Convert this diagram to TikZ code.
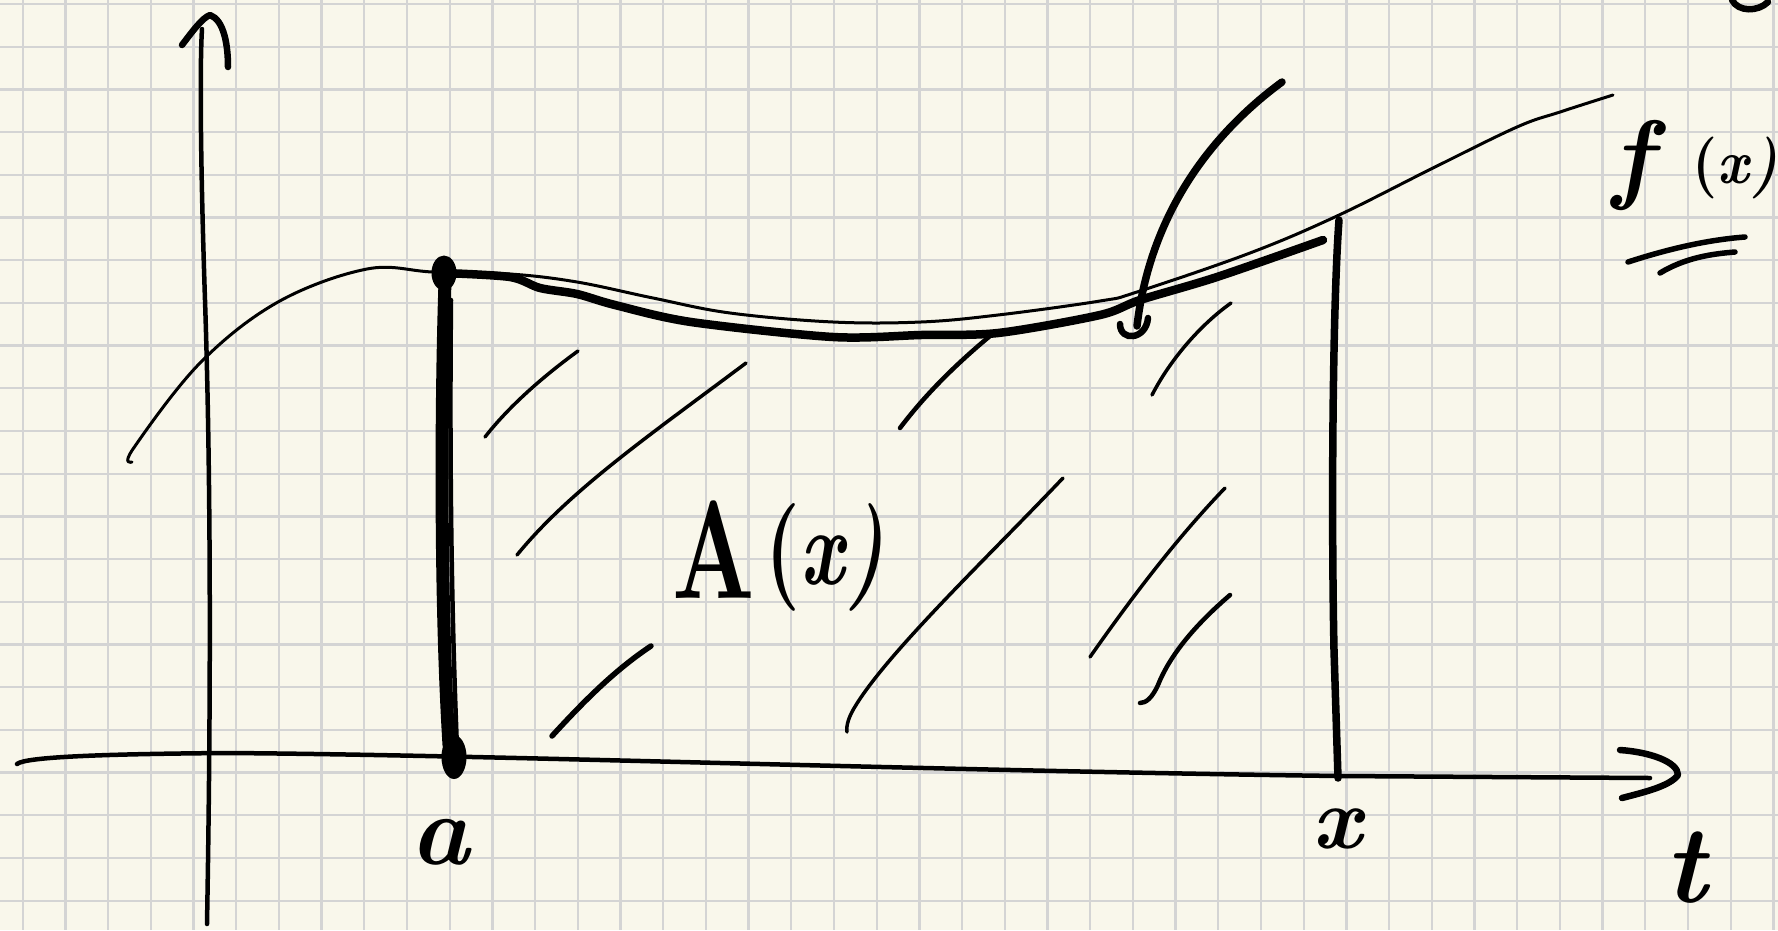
\documentclass[tikz,border=0pt]{standalone}
\definecolor{paper}{RGB}{249,247,235}
\definecolor{gridc}{RGB}{212,212,212}
\definecolor{ink}{RGB}{0,0,0}
\tikzset{
  gridline/.style={draw=gridc, line width=2.3pt},
  axisline/.style={draw=ink, line width=4.5pt, line cap=round, line join=round},
  thinink/.style={draw=ink, line width=3pt, line cap=round, line join=round},
  thickink/.style={draw=ink, line width=8.5pt, line cap=round, line join=round},
  hatch/.style={draw=ink, line width=3.5pt, line cap=round},
  lbl/.style={inner sep=0pt, text=ink},
}
\begin{document}
\begin{tikzpicture}[x=1pt,y=-1pt]
\useasboundingbox (0,0) rectangle (1778,930);
\fill[paper] (0,0) rectangle (1778,930);
% grid
\foreach \i in {0,...,41} \draw[gridline] ({22.7+42.7*\i},0) -- ({22.7+42.7*\i},930);
\foreach \j in {0,...,21} \draw[gridline] (0,{4+42.7*\j}) -- (1778,{4+42.7*\j});
% vertical axis
\coordinate (vtop) at (202,29);
\coordinate (vbot) at (207,924);
\draw[axisline] (vbot) .. controls (211,700) and (211,480) .. (205,300) .. controls (200,150) and (200,60) .. (vtop);
\draw[draw=ink, line width=6.5pt, line cap=round, line join=round]
  (182,45) .. controls (192,32) and (202,18) .. (210,15) .. controls (224,20) and (228,45) .. (228,67);
% horizontal axis
\coordinate (hleft) at (17,764);
\coordinate (hright) at (1650,778);
\draw[axisline] (hleft) .. controls (25,757) and (100,754) .. (227,753) .. controls (500,755) and (900,770) .. (1338,776) -- (hright);
\draw[draw=ink, line width=6.5pt, line cap=round, line join=round]
  (1620,750) .. controls (1650,752) and (1678,762) .. (1678,775) .. controls (1670,786) and (1645,792) .. (1622,798);
% function curve f (thin)
\draw[thinink] plot[smooth, tension=0.6] coordinates {(132,462) (133,449) (200,363) (278,302) (367,269) (433,272) (510,274) (577,282) (653,298) (730,313) (833,322) (921,322) (998,315) (1100,301) (1137,292) (1250,253) (1337,216) (1433,168) (1517,127) (1560,112) (1613,95)};
% thick upper boundary
\draw[thickink] plot[smooth, tension=0.5] coordinates {(444,273) (510,277) (540,288) (577,294) (615,305) (691,322) (833,337) (921,335) (998,333) (1100,315) (1140,300) (1217,277) (1323,240)};
% vertical at a
\draw[draw=ink, line width=13pt, line cap=round] (445,282) .. controls (441,400) and (440,600) .. (449,745);
\draw[draw=ink, line width=4.5pt, line cap=round] (451,300) .. controls (449,500) and (453,650) .. (457,748);
% dots
\fill[ink] (444,273) ellipse [x radius=12.5, y radius=17.5];
\fill[ink] (454,757) ellipse [x radius=12.5, y radius=22];
% vertical at x
\draw[draw=ink, line width=7.5pt, line cap=round] (1339,220) .. controls (1333,300) and (1331,500) .. (1334,650) -- (1338,778);
% arrow pointing to curve
\draw[draw=ink, line width=7.5pt, line cap=round] (1282,82) .. controls (1210,135) and (1150,215) .. (1137,326);
\draw[draw=ink, line width=6.5pt, line cap=round] (1120,324) .. controls (1120,342) and (1146,340) .. (1148,318);
% hatching
\draw[hatch] (578,351) .. controls (545,375) and (510,405) .. (485,437);
\draw[hatch] (746,363) .. controls (650,435) and (570,490) .. (517,555);
\draw[hatch, line width=5.5pt] (651,646) .. controls (615,670) and (585,700) .. (552,736);
\draw[hatch, line width=4.5pt] (990,336) .. controls (955,365) and (925,395) .. (900,428);
\draw[hatch] (1063,478) .. controls (990,555) and (890,650) .. (856,705) .. controls (849,716) and (846,725) .. (847,732);
\draw[hatch] (1225,488) .. controls (1175,540) and (1130,600) .. (1090,657);
\draw[hatch] (1231,303) .. controls (1200,325) and (1170,360) .. (1152,395);
\draw[hatch, line width=4.5pt] (1230,595) .. controls (1195,625) and (1170,655) .. (1158,685) .. controls (1152,698) and (1146,703) .. (1140,703);
% partial stroke at top right
\draw[draw=ink, line width=6.5pt, line cap=round] (1732,0) .. controls (1738,12) and (1758,12) .. (1768,2);
% f(x) underline
\draw[draw=ink, line width=5.5pt, line cap=round] (1628,262) .. controls (1665,250) and (1705,240) .. (1745,237);
\draw[draw=ink, line width=5.5pt, line cap=round] (1660,273) .. controls (1685,258) and (1710,254) .. (1735,252);
% labels
\path (440,842) node[lbl] (labela) {\scalebox{10}{\bfseries\itshape a}};
\path (1337,829) node[lbl] (labelx) {\scalebox{8.8}{\bfseries\itshape x}};
\path (1686,868) node[lbl] (labelt) {\scalebox{11}{\bfseries\itshape t}};
\path (672,598) node[lbl, anchor=base west] (labelA) {\scalebox{9.5}[14]{\bfseries A}};
\path (765,584) node[lbl, anchor=base west] (labelAx) {\scalebox{7.8}[10.8]{\bfseries(\itshape x\/)}};
\path (1612,190) node[lbl, anchor=base west] (labelf) {\scalebox{10}{\bfseries\itshape f}};
\path (1692,183) node[lbl, anchor=base west] (labelfx) {\scalebox{5.6}[6.2]{\bfseries(\itshape x\/)}};
\end{tikzpicture}
\end{document}
